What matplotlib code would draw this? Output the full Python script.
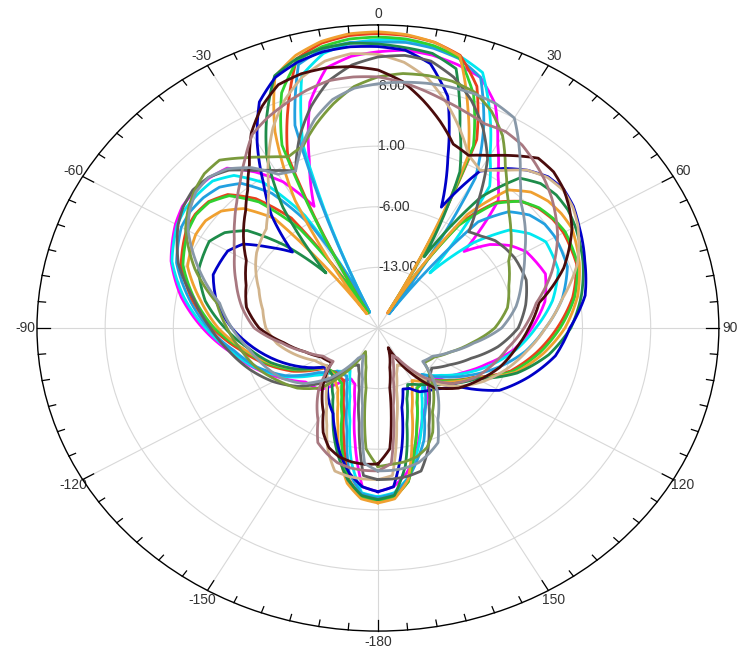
import numpy as np
import matplotlib
matplotlib.use("Agg")
import matplotlib.pyplot as plt

plt.rcParams["font.family"] = ["Liberation Sans", "DejaVu Sans"]

# angle grid (deg) shared by every trace
angles = [-180, -175, -170, -165, -160, -155, -150,
          -140, -130, -120, -110, -100, -90, -80, -70, -60,
          -55, -50, -45, -40, -35, -30, -25, -20, -15, -10, -5,
          0, 5, 10, 15, 20, 25, 30, 35, 40, 45, 50, 55,
          60, 70, 80, 90, 100, 110, 120, 130, 140,
          150, 155, 160, 165, 170, 175]

# gain (dB) per trace, same order as angles
gain_magenta = [-1.1, -1.6, -6.5, -10.9, -13.1, -13.5, -13.0,
                -10.7, -10.3, -8.5, -6.5, -4.5, -2.0, 0.5, 2.6, 4.0,
                4.5, 4.6, 4.5, 4.1, 2.0, -0.5, -4.5, 0.6, 7.0, 10.5, 11.5,
                11.9, 12.2, 12.0, 11.5, 10.8, 8.5, 4.6, 1.5, -0.8, -7.5, -5.0, -3.4,
                -2.4, -1.7, -2.6, -4.2, -5.8, -8.0, -9.8, -11.2, -12.0,
                -10.0, -9.1, -7.3, -5.0, -3.0, -1.6]
gain_cyan = [-0.5, -0.9, -4.3, -8.9, -11.6, -13.2, -14.3,
             -13.5, -11.5, -8.8, -6.6, -4.7, -2.3, 0.2, 2.5, 3.8,
             4.1, 4.1, 4.0, 3.0, 0.5, -5.0, -18.0, 2.5, 10.2, 12.2, 13.0,
             13.3, 13.4, 13.0, 12.5, 11.4, 7.2, 3.0, 0.0, -11.7, -6.0, -2.4, -1.0,
             -0.1, -0.3, -1.8, -3.8, -5.6, -7.6, -9.6, -11.5, -13.0,
             -11.0, -9.3, -7.1, -4.8, -2.4, -0.9]
gain_skyblue = [-0.4, -0.8, -3.0, -7.7, -10.7, -12.5, -13.6,
                -13.5, -12.0, -9.0, -6.8, -5.0, -2.6, -0.3, 2.0, 3.3,
                3.5, 3.4, 3.0, 1.8, -1.0, -6.5, -18.0, 4.9, 11.5, 12.7, 13.1,
                13.0, 13.1, 12.8, 12.2, 10.8, 5.7, 0.0, -18.0, -4.0, -1.0, 0.3, 0.9,
                1.0, 0.7, -0.8, -2.8, -4.6, -6.8, -9.1, -11.2, -13.0,
                -10.2, -8.7, -6.2, -4.3, -2.3, -0.8]
gain_red = [0.0, -0.4, -2.4, -6.5, -9.8, -11.7, -13.0,
            -13.3, -12.8, -10.0, -7.8, -5.6, -3.0, -0.6, 1.5, 2.7,
            2.9, 2.7, 1.8, -0.5, -4.5, -18.0, 1.9, 7.0, 12.2, 13.4, 13.9,
            14.0, 13.9, 13.5, 12.6, 9.7, 4.0, -18.0, -5.0, -1.0, 0.7, 1.5, 1.9,
            2.0, 1.7, 0.3, -1.6, -3.5, -5.5, -8.6, -10.6, -12.3,
            -12.0, -10.5, -8.3, -5.5, -2.0, -0.4]
gain_lime = [0.0, -0.4, -2.3, -5.7, -9.2, -11.2, -12.6,
             -13.2, -13.0, -10.3, -8.0, -5.9, -3.2, -0.9, 1.3, 2.5,
             2.8, 2.6, 1.6, -1.0, -6.0, -18.0, 3.3, 8.9, 12.0, 13.0, 13.5,
             13.6, 13.5, 13.1, 12.3, 8.7, 3.2, -17.5, -5.5, -1.2, 0.7, 1.6, 2.0,
             2.2, 1.8, 0.5, -1.3, -3.2, -5.3, -8.5, -10.5, -12.3,
             -12.0, -10.5, -8.3, -5.5, -2.0, -0.4]
gain_orange = [0.2, -0.2, -1.8, -4.8, -8.0, -10.3, -11.8,
               -13.0, -13.0, -10.5, -8.2, -6.0, -3.6, -1.5, 0.8, 1.6,
               1.6, 1.0, -0.5, -3.5, -18.0, -3.0, 5.0, 10.9, 12.6, 13.6, 14.1,
               14.2, 14.0, 13.5, 12.5, 7.0, 1.9, -18.0, -4.0, 0.8, 2.2, 2.8, 3.0,
               3.0, 2.0, 0.8, -0.8, -2.8, -5.0, -8.5, -10.3, -12.0,
               -13.0, -11.7, -9.8, -6.5, -2.2, -0.2]
gain_green = [-0.2, -0.6, -2.2, -4.5, -6.8, -9.1, -10.8,
              -12.8, -13.2, -10.5, -8.3, -6.5, -4.3, -2.0, -0.4, 0.0,
              -0.8, -2.5, -6.5, -11.7, -3.0, 2.8, 7.0, 11.0, 12.2, 12.8, 13.0,
              12.8, 12.5, 12.2, 11.0, 4.6, -0.1, -10.5, -1.5, 2.6, 3.6, 3.9, 3.8,
              3.4, 2.4, 1.2, -0.2, -2.2, -4.8, -8.3, -10.0, -11.5,
              -12.5, -12.8, -11.3, -8.5, -3.8, -0.6]
gain_blue = [-1.1, -1.6, -3.0, -5.0, -7.2, -9.1, -10.0,
             -12.0, -13.0, -11.0, -9.0, -7.0, -5.0, -3.2, -2.0, -2.2,
             -3.1, -5.5, -7.6, -3.0, 0.5, 4.8, 8.8, 10.8, 11.8, 12.4, 12.6,
             12.5, 12.2, 11.0, 7.7, 1.0, -4.6, 0.9, 2.5, 3.8, 4.7, 4.9, 4.5,
             3.8, 2.6, 1.6, -0.3, -1.5, -3.5, -5.6, -9.6, -10.8,
             -11.5, -12.3, -12.5, -10.5, -5.9, -1.6]
gain_maroon = [-4.3, -4.2, -4.3, -4.6, -5.3, -6.7, -8.8,
               -11.2, -13.8, -13.3, -12.0, -10.2, -7.8, -6.3, -5.6, -4.4,
               -3.2, -2.0, -0.8, 0.8, 3.0, 6.0, 8.2, 9.9, 10.4, 10.5, 10.3,
               9.8, 8.6, 6.7, 4.7, 2.6, 2.0, 3.0, 4.3, 5.6, 5.5, 4.9, 4.0,
               3.0, 0.3, -3.2, -4.5, -5.7, -6.7, -8.0, -9.2, -11.0,
               -15.0, -17.5, -16.4, -15.3, -13.0, -6.0]
gain_rosy = [-3.5, -3.5, -3.6, -3.9, -4.6, -5.4, -7.7,
             -10.5, -14.0, -13.5, -12.0, -10.0, -7.3, -5.8, -4.5, -3.0,
             -2.0, -0.8, 0.5, 2.0, 3.8, 5.8, 6.8, 7.6, 8.4, 9.0, 9.1,
             9.0, 8.5, 7.8, 7.1, 6.5, 6.0, 6.2, 5.8, 5.0, 4.2, 3.3, 2.3,
             1.3, -1.0, -3.5, -5.0, -6.5, -7.5, -8.5, -10.0, -12.5,
             -16.0, -16.5, -15.3, -13.9, -10.9, -4.3]
gain_slate = [-3.5, -4.3, -10.9, -13.9, -15.3, -16.5, -16.0,
              -12.5, -10.0, -8.5, -7.5, -6.5, -5.0, -3.5, -0.5, 2.5,
              3.6, 4.4, 4.6, 4.0, 2.6, 0.5, 0.0, 2.6, 5.0, 6.8, 7.8,
              8.2, 8.5, 8.7, 8.8, 8.8, 8.6, 8.0, 5.3, 2.7, 0.7, -0.4, -1.5,
              -2.6, -4.3, -5.6, -7.3, -10.0, -12.0, -13.5, -14.0, -10.5,
              -7.7, -5.4, -4.6, -3.9, -3.6, -3.5]
gain_olive = [-4.0, -6.0, -13.0, -15.3, -16.4, -17.0, -15.0,
              -11.0, -9.2, -8.0, -6.7, -5.7, -4.5, -3.2, 0.0, 2.8,
              3.8, 4.6, 5.2, 5.3, 4.0, 2.8, 1.8, 2.4, 4.4, 6.3, 8.0,
              9.0, 9.5, 9.6, 9.5, 9.0, 7.6, 5.6, 2.8, 0.6, -1.0, -2.2, -3.3,
              -4.5, -5.7, -6.5, -8.0, -10.2, -12.0, -13.3, -13.8, -11.2,
              -8.8, -6.7, -5.3, -4.6, -4.3, -4.2]
gain_tan = [-2.5, -2.5, -2.6, -2.9, -5.0, -7.6, -9.5,
            -12.0, -13.2, -12.5, -11.0, -9.5, -8.5, -8.0, -7.0, -5.5,
            -4.8, -4.3, -3.8, -2.5, -0.5, 2.5, 5.5, 8.0, 10.0, 11.3, 11.8,
            11.6, 10.8, 9.3, 7.0, 4.5, 2.0, 1.0, 2.2, 3.8, 4.6, 4.8, 4.4,
            3.7, 1.8, -0.8, -2.8, -4.5, -6.0, -7.6, -9.5, -12.0,
            -15.0, -15.3, -14.4, -12.6, -8.9, -2.9]
gain_dimgray = [-2.5, -2.9, -8.9, -12.6, -14.4, -15.3, -15.0,
                -12.0, -9.5, -7.6, -6.0, -4.5, -2.8, -0.8, 1.8, 3.7,
                4.4, 4.8, 4.6, 3.8, 2.2, 1.0, 0.0, 3.5, 6.5, 9.0, 10.5,
                11.3, 11.6, 11.3, 10.0, 8.0, 5.5, 2.5, -2.0, -5.5, -5.0, -4.3, -4.0,
                -3.8, -3.8, -4.6, -5.6, -7.5, -9.8, -11.5, -12.8, -12.0,
                -9.5, -7.6, -5.0, -2.9, -2.6, -2.5]

traces = [
    (gain_magenta, "#ff00ff"),
    (gain_cyan, "#00e8f0"),
    (gain_skyblue, "#22a0e0"),
    (gain_red, "#e8401c"),
    (gain_lime, "#30d030"),
    (gain_orange, "#f0a030"),
    (gain_green, "#1e8c4a"),
    (gain_blue, "#0000c8"),
    (gain_tan, "#d2b48c"),
    (gain_dimgray, "#606060"),
    (gain_olive, "#7a9a3c"),
    (gain_maroon, "#4a0c0c"),
    (gain_rosy, "#a87880"),
    (gain_slate, "#8898a8"),
]

r_min, r_max = -20, 15
r_ticks = [-13, -6, 1, 8]
r_labels = ["-13.00", "-6.00", "1.00", "8.00"]
theta_ticks = list(range(0, 360, 30))
theta_labels = ["0", "30", "60", "90", "120", "150", "-180", "-150", "-120", "-90", "-60", "-30"]

fig = plt.figure(figsize=(7.38, 6.56), dpi=100)
ax = fig.add_axes([0.0501, 0.038, 0.924, 0.924], projection="polar")
ax.set_aspect("auto")
ax.set_theta_zero_location("N")
ax.set_theta_direction(-1)
ax.set_ylim(r_min, r_max)

th = np.deg2rad(angles + [180])
for vals, col in traces:
    ln, = ax.plot(th, vals + [vals[0]], color=col, lw=2.0, zorder=3,
                  solid_joinstyle="round")
    ln.get_path()._interpolation_steps = 8

ax.set_xticks(np.deg2rad(theta_ticks))
ax.set_xticklabels(theta_labels, fontsize=10, color="#333333")
ax.tick_params(axis="x", which="major", length=0, pad=1)

# tick marks on the outer ring, pointing inward
for deg in range(0, 360, 5):
    a = np.deg2rad(deg)
    tl = 1.3 if deg % 30 == 0 else 0.75
    ax.plot([a, a], [r_max, r_max - tl], color="black", lw=0.9,
            clip_on=False, zorder=4)

ax.set_yticks(r_ticks)
ax.set_yticklabels([])
for r, lab in zip(r_ticks, r_labels):
    ax.text(0, r, lab, ha="left", va="center", fontsize=10, color="#333333",
            zorder=2)

ax.grid(True, color="#d8d8d8", lw=0.8)
ax.spines["polar"].set_color("black")
ax.spines["polar"].set_linewidth(1.0)

fig.savefig("out.png", dpi=100)
